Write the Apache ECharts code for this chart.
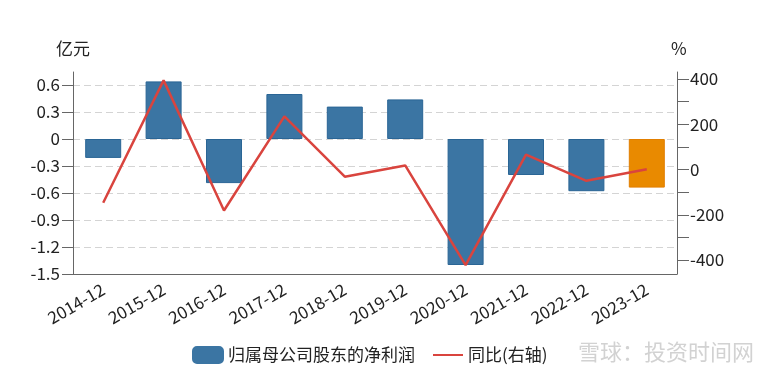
<!DOCTYPE html>
<html>
<head>
<meta charset="utf-8">
<script src="https://cdn.jsdelivr.net/npm/echarts@6/dist/echarts.min.js"></script>
<style>html,body{margin:0;padding:0;background:#fff}#c{width:757px;height:380px}</style>
</head>
<body>
<div id="c"></div>
<script>
const categories = ['2014-12','2015-12','2016-12','2017-12','2018-12','2019-12','2020-12','2021-12','2022-12','2023-12'];
const profit = [-0.21, 0.64, -0.49, 0.50, 0.36, 0.44, -1.40, -0.40, -0.58, -0.54];
const yoy = [-147, 394, -181, 235, -32, 18, -423, 66, -50, 1];
const highlightIndex = 9;
const leftAxisMin = -1.5, leftAxisMax = 0.6, leftAxisStep = 0.3;
const rightAxisMin = -400, rightAxisMax = 400, rightAxisStep = 100, rightLabelStep = 200;
const barName = '归属母公司股东的净利润';
const lineName = '同比(右轴)';
const leftUnit = '亿元';
const rightUnit = '%';
const watermark = '雪球：投资时间网';

const FONT = '"Noto Sans CJK SC", "Noto Sans", sans-serif';
const AX = '#666';
const chart = echarts.init(document.getElementById('c'), null, {renderer: 'canvas'});

const barData = profit.map((v, i) => i === highlightIndex
  ? {value: v, itemStyle: {color: '#e98a00', borderColor: '#e27f00'}}
  : v);

const hiddenX = idx => ({
  type: 'category', gridIndex: idx, data: categories, show: false, boundaryGap: true
});

chart.setOption({
  animation: false,
  textStyle: {fontFamily: FONT},
  grid: [
    {left: 73, right: 80, top: 72, bottom: 106},   // frame
    {left: 73, right: 80, top: 85, bottom: 106},   // left scale (-1.5 .. 0.6)
    {left: 73, right: 80, top: 79, bottom: 120}    // right scale (-400 .. 400)
  ],
  xAxis: [
    {
      type: 'category', gridIndex: 0, data: categories, boundaryGap: true,
      axisLine: {lineStyle: {color: AX, width: 1}},
      axisTick: {alignWithLabel: true, length: 12, lineStyle: {color: AX}},
      axisLabel: {rotate: 30, fontSize: 17, color: '#222', margin: 14, fontFamily: FONT}
    },
    hiddenX(1),
    hiddenX(2)
  ],
  yAxis: [
    {type: 'value', gridIndex: 0, position: 'left', min: 0, max: 1,
     axisLine: {show: true, lineStyle: {color: AX}}, axisTick: {show: false},
     axisLabel: {show: false}, splitLine: {show: false}},
    {type: 'value', gridIndex: 0, position: 'right', min: 0, max: 1,
     axisLine: {show: true, lineStyle: {color: AX}}, axisTick: {show: false},
     axisLabel: {show: false}, splitLine: {show: false}},
    {type: 'value', gridIndex: 1, position: 'left',
     min: leftAxisMin, max: leftAxisMax, interval: leftAxisStep,
     axisLine: {show: false},
     axisTick: {show: true, length: 11, lineStyle: {color: AX}},
     axisLabel: {fontSize: 17, color: '#222', margin: 13, fontFamily: FONT},
     splitLine: {show: true, lineStyle: {color: '#d4d4d4', type: [7, 4], width: 1}}},
    {type: 'value', gridIndex: 2, position: 'right',
     min: rightAxisMin, max: rightAxisMax, interval: rightAxisStep,
     axisLine: {show: false},
     axisTick: {show: true, length: 12, lineStyle: {color: AX}},
     axisLabel: {fontSize: 17, color: '#222', margin: 13, fontFamily: FONT,
       formatter: v => (Math.round(v) % rightLabelStep === 0 ? String(Math.round(v)) : '')},
     splitLine: {show: false}}
  ],
  legend: {
    left: 187, top: 341,
    itemWidth: 30, itemHeight: 16, itemGap: 18,
    textStyle: {fontSize: 17, color: '#222', fontFamily: FONT},
    data: [
      {name: barName, icon: 'roundRect', itemStyle: {color: '#3b75a3', borderColor: '#3b75a3'}},
      {name: lineName, icon: 'path://M0,7 L30,7 L30,9 L0,9 Z', itemStyle: {color: '#d9443e'}}
    ]
  },
  graphic: [
    {type: 'text', left: 56, top: 40, style: {text: leftUnit, fill: '#222', font: '17px ' + FONT}},
    {type: 'text', left: 671, top: 40, style: {text: rightUnit, fill: '#222', font: '17px ' + FONT}},
    {type: 'text', right: 3, top: 341, style: {text: watermark, fill: '#d2d2d2', font: '22px ' + FONT}}
  ],
  series: [
    {
      name: barName, type: 'bar', xAxisIndex: 1, yAxisIndex: 2,
      data: barData, barWidth: 36, clip: false,
      itemStyle: {color: '#3b75a3', borderColor: '#2a6595', borderWidth: 1}
    },
    {
      name: lineName, type: 'line', xAxisIndex: 2, yAxisIndex: 3,
      data: yoy, symbol: 'none', clip: false, z: 5,
      lineStyle: {color: '#d9443e', width: 2.5},
      itemStyle: {color: '#d9443e'}
    }
  ]
});
</script>
</body>
</html>
